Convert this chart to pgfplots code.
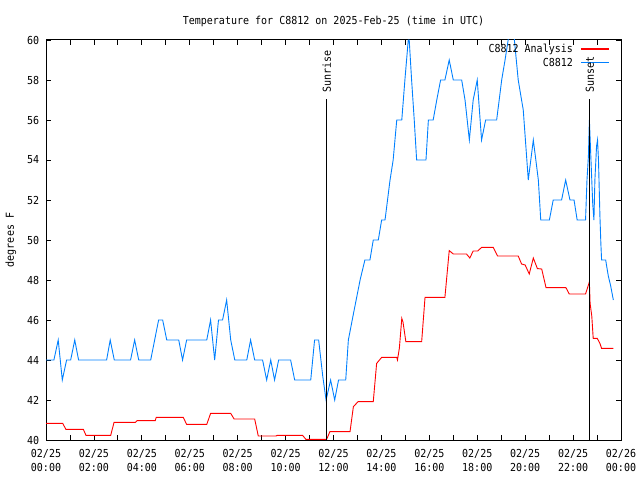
\documentclass[border=0pt]{standalone}
\usepackage{pgfplots}
\pgfplotsset{compat=1.18}
\usepackage{fontspec}
\setmainfont{DejaVu Sans Mono}[FakeStretch=0.91]
\definecolor{obsblue}{RGB}{0,128,255}
\definecolor{anared}{RGB}{255,0,0}
\newcommand{\gfont}{\fontsize{11bp}{13bp}\selectfont}
\begin{document}
\gfont
\begin{tikzpicture}
\useasboundingbox (-46bp,-40bp) rectangle (594bp,440bp);
\begin{axis}[
  at={(0,0)}, anchor=south west,
  scale only axis, width=575bp, height=400bp,
  xmin=0, xmax=24, ymin=40, ymax=60,
  xtick={0,2,...,24}, minor xtick={1,3,...,23},
  xticklabels={{02/25\\00:00},{02/25\\02:00},{02/25\\04:00},{02/25\\06:00},{02/25\\08:00},{02/25\\10:00},{02/25\\12:00},{02/25\\14:00},{02/25\\16:00},{02/25\\18:00},{02/25\\20:00},{02/25\\22:00},{02/26\\00:00}},
  xticklabel style={align=center, font=\fontsize{11bp}{14bp}\selectfont, yshift=-5bp},
  ytick={40,42,...,60},
  yticklabel style={font=\gfont, xshift=-3bp},
  /pgf/number format/assume math mode=true,
  tick align=inside,
  major tick length=5bp, minor tick length=5bp,
  every tick/.style={black, line width=0.8bp},
  axis line style={line width=1bp},
  title={Temperature for C8812 on 2025-Feb-25 (time in UTC)},
  title style={at={(axis description cs:0.5,1)}, anchor=center, yshift=13bp, font=\gfont},
  ylabel={degrees F},
  ylabel style={at={(axis description cs:0,0.5)}, anchor=center, yshift=35bp, font=\gfont},
  clip=true,
]
\addplot[anared, line width=0.9bp] coordinates {
(0,40.83) (0.7,40.83) (0.83,40.53) (1.56,40.53) (1.67,40.23) (2.7,40.23)
(2.84,40.88) (3.73,40.88) (3.8,40.97) (4.56,40.97) (4.6,41.13) (5.73,41.13)
(5.87,40.78) (6.71,40.78) (6.87,41.33) (7.71,41.33) (7.85,41.05) (8.71,41.05)
(8.86,40.2) (9.6,40.2) (9.65,40.23) (10.71,40.23) (10.85,40.03) (11.69,40.03)
(11.72,40.05) (11.85,40.42) (12.69,40.42) (12.83,41.67) (13.03,41.92) (13.66,41.92)
(13.8,43.83) (14.01,44.13) (14.64,44.13) (14.67,44.0) (14.75,44.6) (14.85,46.08)
(14.9,45.9) (15.02,44.92) (15.68,44.92) (15.82,47.13) (16.65,47.13) (16.83,49.47)
(17.0,49.3) (17.55,49.3) (17.69,49.1) (17.83,49.45) (18.02,49.45) (18.18,49.63)
(18.67,49.63) (18.85,49.2) (19.71,49.2) (19.85,48.8) (20.0,48.75) (20.17,48.3)
(20.34,49.1) (20.51,48.57) (20.69,48.55) (20.87,47.62) (21.7,47.62) (21.84,47.3)
(22.52,47.3) (22.68,47.9) (22.71,46.83) (22.78,46.2) (22.84,45.08) (23.01,45.08)
(23.12,44.83) (23.19,44.58) (23.68,44.58)
};
\addplot[obsblue, line width=0.9bp] coordinates {
(0,44) (0.33,44) (0.51,45) (0.68,43) (0.86,44) (1.03,44) (1.20,45) (1.36,44)
(2.53,44) (2.68,45) (2.85,44) (3.53,44) (3.70,45) (3.87,44) (4.37,44) (4.70,46)
(4.87,46) (5.04,45) (5.54,45) (5.70,44) (5.87,45) (6.71,45) (6.87,46) (7.04,44)
(7.20,46) (7.37,46) (7.54,47) (7.71,45) (7.88,44) (8.38,44) (8.54,45) (8.71,44)
(9.04,44) (9.21,43) (9.38,44) (9.54,43) (9.71,44) (10.21,44) (10.38,43) (11.05,43)
(11.21,45) (11.38,45) (11.55,43.2) (11.69,42) (11.88,43) (12.05,42) (12.21,43) (12.51,43)
(12.62,45) (12.83,46.3) (13.11,48) (13.31,49) (13.52,49) (13.66,50) (13.87,50) (14.01,51)
(14.15,51) (14.36,53) (14.49,54) (14.64,56) (14.85,56) (14.98,58) (15.12,60) (15.16,60)
(15.26,58) (15.37,56) (15.47,54) (15.86,54) (15.96,56) (16.16,56) (16.31,57) (16.47,58)
(16.65,58) (16.83,59) (17.0,58) (17.35,58) (17.49,57) (17.67,55) (17.83,57) (18.0,58)
(18.18,55) (18.35,56) (18.81,56) (19.02,58) (19.16,59) (19.29,60) (19.36,61) (19.48,61)
(19.55,60) (19.71,58) (19.92,56.5) (20.13,53) (20.34,55) (20.55,53) (20.65,51) (21.01,51)
(21.17,52) (21.52,52) (21.69,53) (21.87,52) (22.04,52) (22.17,51) (22.52,51) (22.58,53)
(22.64,54.2) (22.68,56) (22.74,54.2) (22.82,51.8) (22.87,51) (22.91,53) (22.98,54.7)
(23.02,55) (23.06,54) (23.12,51.2) (23.16,49.8) (23.19,49) (23.36,49) (23.47,48.2)
(23.57,47.7) (23.68,47)
};
\addplot[black, line width=0.9bp] coordinates {(11.715,40) (11.715,57.05)};
\addplot[black, line width=0.9bp] coordinates {(22.70,40) (22.70,57.05)};
% legend samples
\addplot[anared, line width=1.4bp] coordinates {(22.33,59.55) (23.50,59.55)};
\addplot[obsblue, line width=1.2bp] coordinates {(22.33,58.875) (23.50,58.875)};
\node[rotate=90, anchor=west, inner sep=0pt, xshift=6bp] at (axis cs:11.715,57.05) {Sunrise};
\node[rotate=90, anchor=west, inner sep=0pt, xshift=6bp] at (axis cs:22.70,57.05) {Sunset};
\node[anchor=east, inner sep=0pt] at (axis cs:22.00,59.525) {C8812 Analysis};
\node[anchor=east, inner sep=0pt] at (axis cs:22.00,58.875) {C8812};
\end{axis}
\end{tikzpicture}
\end{document}
